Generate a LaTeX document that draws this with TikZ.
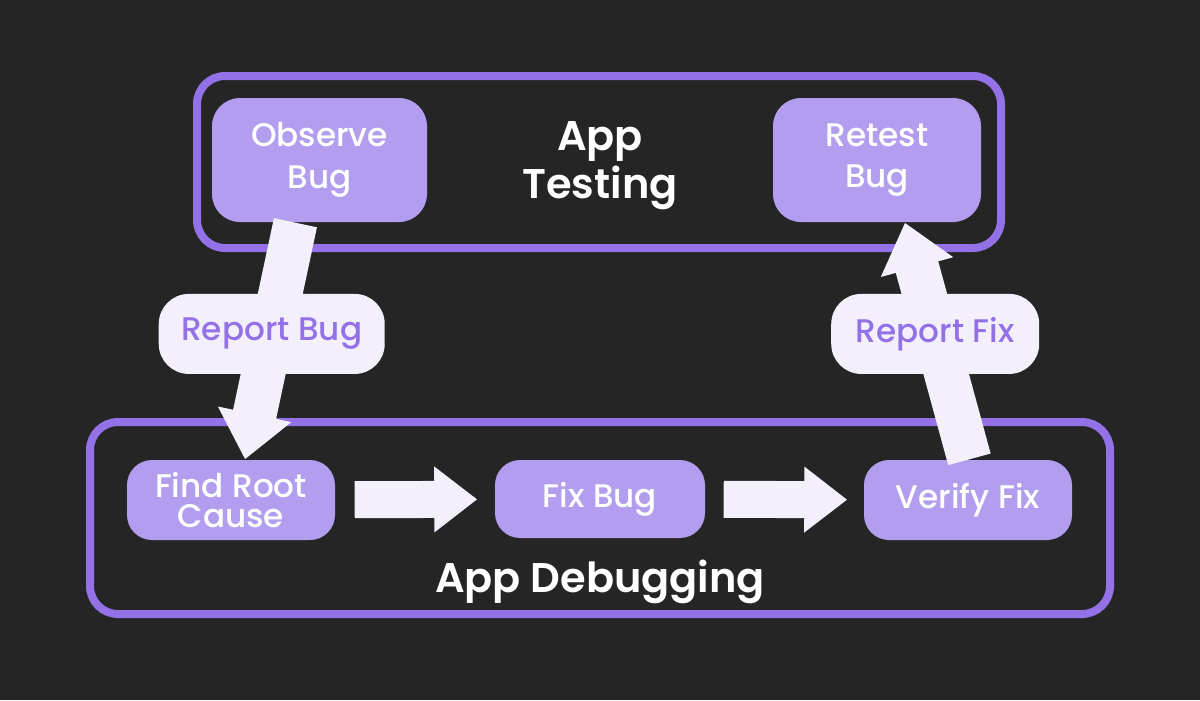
\documentclass[tikz,border=0pt]{standalone}
\usepackage{fontspec}
\setmainfont{Poppins}[UprightFont={* Medium}, BoldFont={* SemiBold}]
\usetikzlibrary{arrows.meta}
\definecolor{bgdark}{HTML}{252525}
\definecolor{frameviolet}{HTML}{9372E8}
\definecolor{boxviolet}{HTML}{B39DEE}
\definecolor{arrowwhite}{HTML}{F3F0FC}

\begin{document}
\begin{tikzpicture}
        % ================= 样式定义 =================
        \tikzset{
            % 外框:分组
            group/.style={draw=frameviolet, line width=0.08cm, rounded corners=0.28cm, inner sep=0pt},
            % 步骤框
            stepbox/.style={fill=boxviolet, text=white, rounded corners=0.28cm, inner sep=0pt, align=center,
                font=\fontsize{9.3}{11.8}\selectfont},
            % 标题文字
            grouptitle/.style={text=white, align=center, font=\fontsize{11.8}{13.7}\selectfont\bfseries},
            % 箭头上的标签
            tag/.style={fill=arrowwhite, text=frameviolet, rounded corners=0.3cm, inner sep=0pt,
                font=\fontsize{9.3}{11}\selectfont, minimum height=0.80cm},
            % 粗箭头
            bigarrow/.style={draw=arrowwhite, line width=0.44cm,
                -{Triangle[width=0.72cm, length=0.46cm]}},
            flatarrow/.style={draw=arrowwhite, line width=0.37cm,
                -{Triangle[width=0.63cm, length=0.43cm]}}
        }

        % 背景
        \fill[bgdark] (0,0) rectangle (12,-7);
        \useasboundingbox (0,0) rectangle (12,-7);

        % ================= 上方:App Testing =================
        \node[group, minimum width=8.04cm, minimum height=1.72cm] (testing) at (5.99,-1.62) {};
        \node[grouptitle] (testtitle) at (6.00,-1.66) {App\\Testing};
        \node[stepbox, minimum width=2.15cm, minimum height=1.24cm] (obs) at (3.195,-1.60) {Observe\\Bug};
        \node[stepbox, minimum width=2.08cm, minimum height=1.24cm] (ret) at (8.77,-1.60) {Retest\\Bug};

        % ================= 下方:App Debugging =================
        \node[group, minimum width=10.20cm, minimum height=1.92cm] (debugging) at (6.00,-5.18) {};
        \node[grouptitle] (debugtitle) at (6.00,-5.82) {App Debugging};
        \node[stepbox, minimum width=2.08cm, minimum height=0.80cm, rounded corners=0.25cm,
            font=\fontsize{9.3}{8.3}\selectfont] (find) at (2.31,-5.00) {Find Root\\Cause};
        \node[stepbox, minimum width=2.10cm, minimum height=0.78cm, rounded corners=0.25cm] (fix) at (6.00,-4.99) {Fix Bug};
        \node[stepbox, minimum width=2.08cm, minimum height=0.80cm, rounded corners=0.25cm] (ver) at (9.68,-5.00) {Verify Fix};

        % 流程箭头
        \draw[flatarrow, shorten <=0.19cm, shorten >=0.17cm] (find) -- (fix);
        \draw[flatarrow, shorten <=0.18cm, shorten >=0.16cm] (fix) -- (ver);

        % 两组之间的箭头
        \draw[bigarrow] (obs.249) -- (find.71)
            node[tag, pos=0.47, minimum width=2.26cm] (repbug) {Report Bug};
        \draw[bigarrow] (ver.88) -- (ret.294)
            node[tag, pos=0.53, minimum width=2.08cm] (repfix) {Report Fix};

    \end{tikzpicture}
\end{document}
